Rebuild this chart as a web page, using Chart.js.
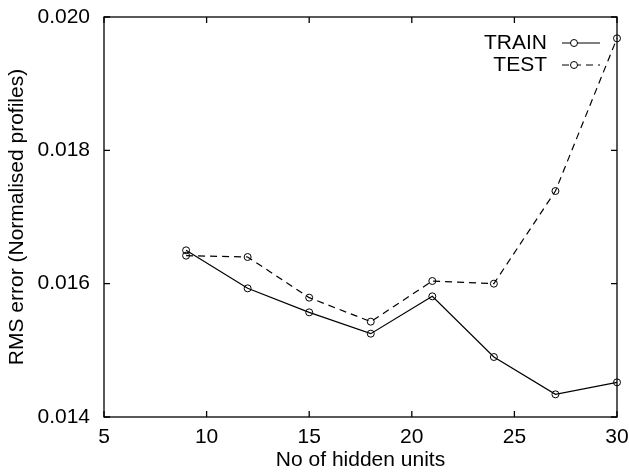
<!DOCTYPE html>
<html lang="en-US">
<head>
  <meta charset="utf-8">
  <title>RMS error vs hidden units</title>
  <script src="https://cdn.jsdelivr.net/npm/chart.js@4.4.0/dist/chart.umd.min.js"></script>
  <style>
    html, body { margin: 0; padding: 0; background: #fff; }
    .wrapper { width: 629px; height: 473px; }
  </style>
</head>
<body>
  <div class="wrapper">
    <canvas id="chart-0" width="629" height="473"></canvas>
  </div>

  <script>
    // values
    let hiddenUnits = [9, 12, 15, 18, 21, 24, 27, 30];
    let trainRms = [0.01650, 0.01593, 0.01557, 0.01525, 0.01581, 0.01490, 0.01434, 0.01452];
    let testRms = [0.01642, 0.01640, 0.01579, 0.01543, 0.01604, 0.01600, 0.01739, 0.01968];
    let xTicks = [5, 10, 15, 20, 25, 30];
    let yTicks = [0.014, 0.016, 0.018, 0.020];

    let fontFamily = '"Liberation Sans", Arial, Helvetica, sans-serif';

    function toPoints(ys) {
      return hiddenUnits.map((x, i) => ({x: x, y: ys[i]}));
    }

    // box round the plot with inward ticks on all four sides
    let frameTicks = {
      id: 'frameTicks',
      afterDatasetsDraw(chart) {
        let ctx = chart.ctx;
        let a = chart.chartArea;
        let x = chart.scales.x, y = chart.scales.y;
        ctx.save();
        ctx.strokeStyle = '#000';
        ctx.lineWidth = 1.3;
        ctx.strokeRect(a.left, a.top, a.right - a.left, a.bottom - a.top);
        ctx.beginPath();
        x.ticks.forEach(t => {
          let px = x.getPixelForValue(t.value);
          ctx.moveTo(px, a.bottom); ctx.lineTo(px, a.bottom - 6);
          ctx.moveTo(px, a.top); ctx.lineTo(px, a.top + 6);
        });
        y.ticks.forEach(t => {
          let py = y.getPixelForValue(t.value);
          ctx.moveTo(a.left, py); ctx.lineTo(a.left + 6, py);
          ctx.moveTo(a.right, py); ctx.lineTo(a.right - 6, py);
        });
        ctx.stroke();
        ctx.restore();
      }
    };

    // gnuplot style key: label on the left, sample line on the right
    let insideKey = {
      id: 'insideKey',
      afterDraw(chart) {
        let ctx = chart.ctx;
        let a = chart.chartArea;
        let textRight = a.right - 70;
        let lineLeft = a.right - 55, lineRight = a.right - 17;
        ctx.save();
        ctx.font = '21px ' + fontFamily;
        ctx.fillStyle = '#000';
        ctx.textAlign = 'right';
        ctx.textBaseline = 'middle';
        chart.data.datasets.forEach((ds, i) => {
          let yy = a.top + 26 + i * 22;
          ctx.fillText(ds.label, textRight, yy);
          ctx.strokeStyle = ds.borderColor;
          ctx.lineWidth = ds.borderWidth;
          ctx.setLineDash(ds.borderDash || []);
          ctx.beginPath();
          ctx.moveTo(lineLeft, yy); ctx.lineTo(lineRight, yy);
          ctx.stroke();
          ctx.setLineDash([]);
          ctx.beginPath();
          ctx.arc(lineLeft + 12, yy, ds.pointRadius, 0, Math.PI * 2);
          ctx.fillStyle = '#fff';
          ctx.fill();
          ctx.lineWidth = 1;
          ctx.stroke();
          ctx.fillStyle = '#000';
        });
        ctx.restore();
      }
    };

    let chart = new Chart('chart-0', {
      type: 'scatter',
      data: {
        datasets: [
          {
            label: 'TRAIN',
            data: toPoints(trainRms),
            showLine: true,
            borderColor: '#000',
            borderWidth: 1.2,
            backgroundColor: 'rgba(0,0,0,0)',
            pointRadius: 3.5,
            pointBorderWidth: 1,
            pointBorderColor: '#000',
            clip: false
          },
          {
            label: 'TEST',
            data: toPoints(testRms),
            showLine: true,
            borderColor: '#000',
            borderWidth: 1.2,
            borderDash: [7, 5],
            backgroundColor: 'rgba(0,0,0,0)',
            pointRadius: 3.5,
            pointBorderWidth: 1,
            pointBorderColor: '#000',
            clip: false
          }
        ]
      },
      options: {
        responsive: false,
        animation: false,
        layout: {
          padding: 0
        },
        plugins: {
          legend: {display: false},
          tooltip: {enabled: false}
        },
        scales: {
          x: {
            type: 'linear',
            min: 5,
            max: 30,
            afterBuildTicks: s => { s.ticks = xTicks.map(v => ({value: v})); },
            afterFit: s => {
              s.height = 56;
              s.paddingLeft = 0;
              s.paddingRight = 12;
            },
            grid: {display: false, drawTicks: false},
            border: {display: false},
            ticks: {
              color: '#000',
              padding: 8,
              font: {family: fontFamily, size: 21}
            },
            title: {
              display: true,
              text: 'No of hidden units',
              color: '#000',
              padding: {top: 0, bottom: 0},
              font: {family: fontFamily, size: 21}
            }
          },
          y: {
            type: 'linear',
            min: 0.014,
            max: 0.020,
            afterBuildTicks: s => { s.ticks = yTicks.map(v => ({value: v})); },
            afterFit: s => {
              s.width = 104;
              s.paddingTop = 17;
              s.paddingBottom = 0;
            },
            grid: {display: false, drawTicks: false},
            border: {display: false},
            ticks: {
              color: '#000',
              padding: 14,
              font: {family: fontFamily, size: 21},
              callback: v => v.toFixed(3)
            },
            title: {
              display: true,
              text: 'RMS error (Normalised profiles)',
              color: '#000',
              padding: {top: 5, bottom: 0},
              font: {family: fontFamily, size: 21}
            }
          }
        }
      },
      plugins: [frameTicks, insideKey]
    });
  </script>
</body>
</html>
